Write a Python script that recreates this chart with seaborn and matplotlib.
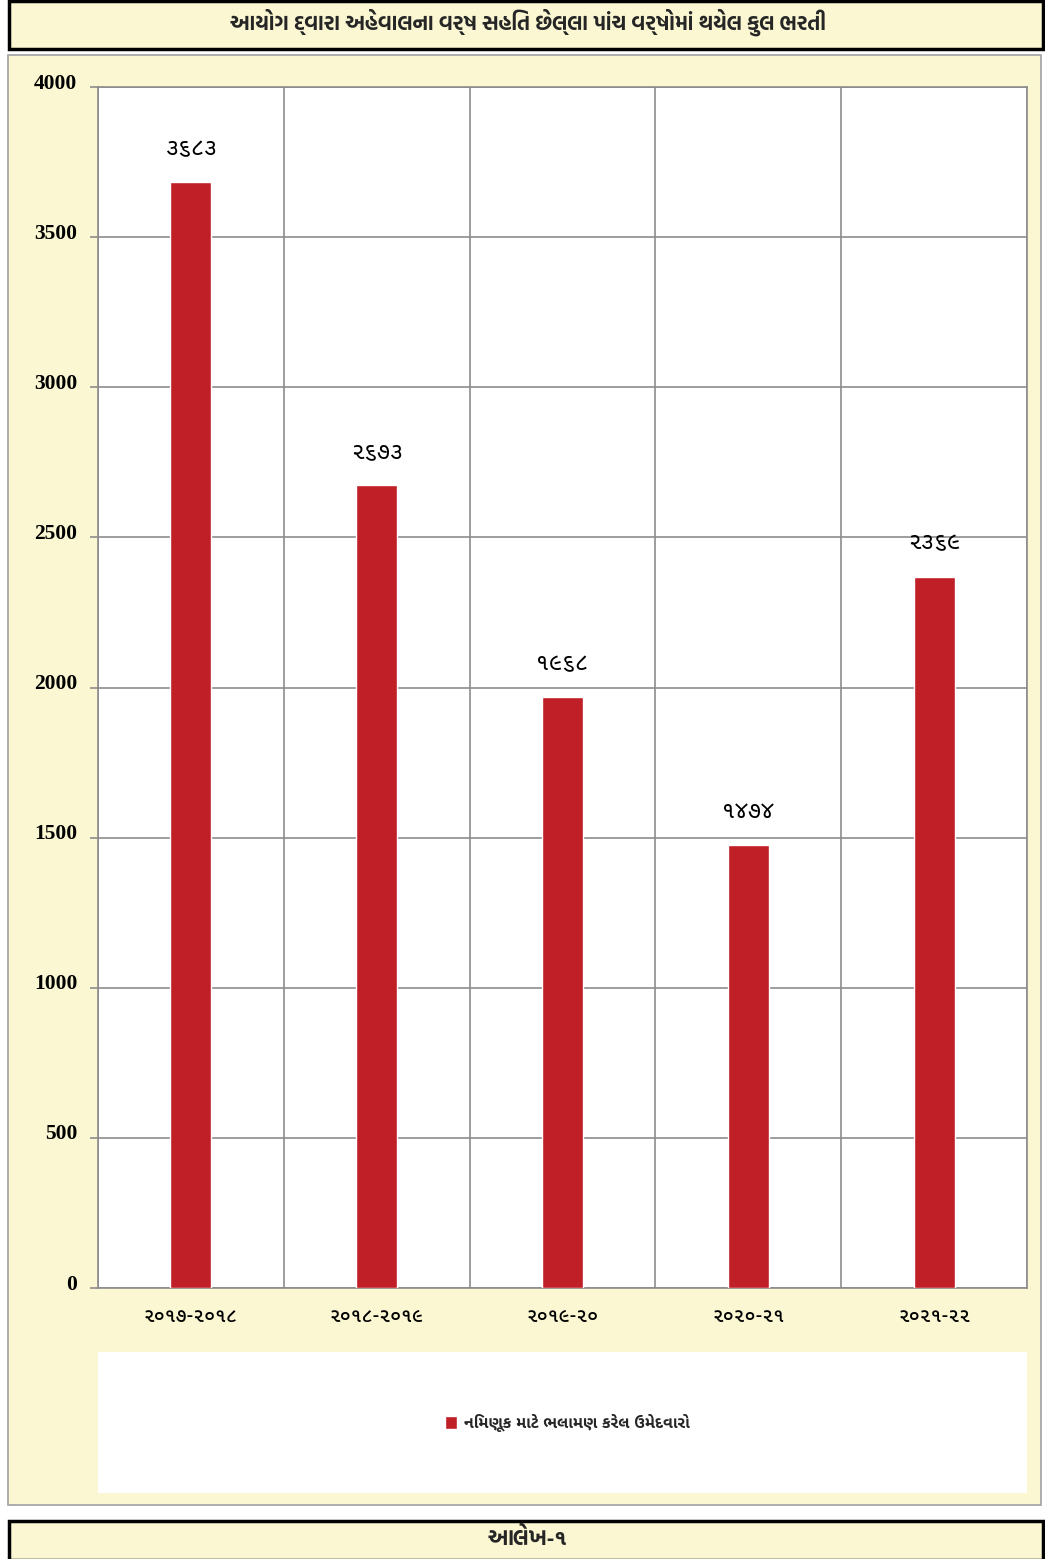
import matplotlib
matplotlib.use('Agg')
import matplotlib.pyplot as plt
from matplotlib.patches import Rectangle
from matplotlib.transforms import ScaledTranslation
import seaborn as sns
import pandas as pd
import numpy as np

# data
years = ['૨૦૧૭-૨૦૧૮', '૨૦૧૮-૨૦૧૯', '૨૦૧૯-૨૦', '૨૦૨૦-૨૧', '૨૦૨૧-૨૨']
recruits = [3683, 2673, 1968, 1474, 2369]
yticks = [0, 500, 1000, 1500, 2000, 2500, 3000, 3500, 4000]
title = 'આયોગ દ્વારા અહેવાલના વર્ષ સહિત છેલ્લા પાંચ વર્ષોમાં થયેલ કુલ ભરતી'
series_name = 'નિમણૂક માટે ભલામણ કરેલ ઉમેદવારો'
caption = 'આલેખ-૧'

guj_digits = str.maketrans('0123456789', '૦૧૨૩૪૫૬૭૮૯')
df = pd.DataFrame({'year': years, 'count': recruits})

sns.set_theme(style='white')
guj = ['Noto Sans Gujarati UI', 'DejaVu Sans']
head = ['Hind Vadodara', 'Noto Sans Gujarati UI', 'DejaVu Sans']
plt.rcParams['font.family'] = guj

W, H = 1045, 1559
fig = plt.figure(figsize=(W / 100, H / 100), dpi=100)
fig.patch.set_facecolor('white')
cream = '#FAF7D2'

def box(x0, y0, x1, y1, fc, ec, lw):
    fig.patches.append(Rectangle((x0 / W, 1 - y1 / H), (x1 - x0) / W, (y1 - y0) / H,
                                 transform=fig.transFigure, fc=fc, ec=ec, lw=lw, zorder=-5))

# title box, chart area, legend area, caption box
box(9, 1, 1043, 49, cream, 'black', 2.5)
box(8, 55, 1041, 1505, cream, '#A0A0A0', 1.2)
box(98, 1352, 1027, 1493, 'white', 'none', 0)
box(9, 1521, 1043, 1560, cream, 'black', 2.5)

fig.text(528 / W, 1 - 22 / H, title, ha='center', va='center', fontsize=15,
         fontweight='bold', family=head)
fig.text(527 / W, 1 - 1538 / H, caption, ha='center', va='center', fontsize=15.5,
         fontweight='bold', family=head)

ax = fig.add_axes([98 / W, 1 - 1288 / H, 929 / W, (1288 - 87) / H])
ax.set_facecolor('white')
sns.barplot(data=df, x='year', y='count', color='#C01F27', width=0.22,
            saturation=1, ax=ax, label=series_name, zorder=3)
if ax.get_legend() is not None:
    ax.get_legend().remove()

ax.set_xlim(-0.5, len(years) - 0.5)
ax.set_ylim(0, 4000)
ax.set_yticks(yticks)
ax.set_yticklabels([str(v) for v in yticks], family='Liberation Serif',
                   fontweight='bold', fontsize=15.5, color='black')
ax.set_xlabel('')
ax.set_ylabel('')
ax.set_xticks(np.arange(len(years)))
ax.set_xticklabels(years, fontsize=14, fontweight='medium', color='black')
ax.set_xticks(np.arange(len(years) + 1) - 0.5, minor=True)

gc = '#8C8C8C'
ax.set_axisbelow(True)
ax.grid(axis='y', which='major', color=gc, lw=1.2, zorder=1)
ax.grid(axis='x', which='minor', color=gc, lw=1.2, zorder=1)
ax.tick_params(axis='x', which='major', length=0, pad=14)
ax.tick_params(axis='x', which='minor', length=6, color=gc, width=1.2)
ax.tick_params(axis='y', length=6, color=gc, width=1.2, pad=9, left=True)
for s in ax.spines.values():
    s.set_color(gc)
    s.set_linewidth(1.2)

# y labels sit a little above their gridlines
shift = ScaledTranslation(0, 0.06, fig.dpi_scale_trans)
for lab in ax.get_yticklabels():
    lab.set_transform(lab.get_transform() + shift)

for i, v in enumerate(recruits):
    ax.annotate(str(v).translate(guj_digits), (i, v), xytext=(0, 16),
                textcoords='offset points', ha='center', va='bottom', fontsize=17,
                color='black')

h, l = ax.get_legend_handles_labels()
fig.legend(h[:1], l[:1], loc='center', bbox_to_anchor=(567 / W, 1 - 1423 / H),
           frameon=False, handlelength=0.8, handleheight=0.8, handletextpad=0.4,
           prop={'family': guj, 'weight': 'bold', 'size': 11.5})

fig.savefig('out.png', dpi=100)
